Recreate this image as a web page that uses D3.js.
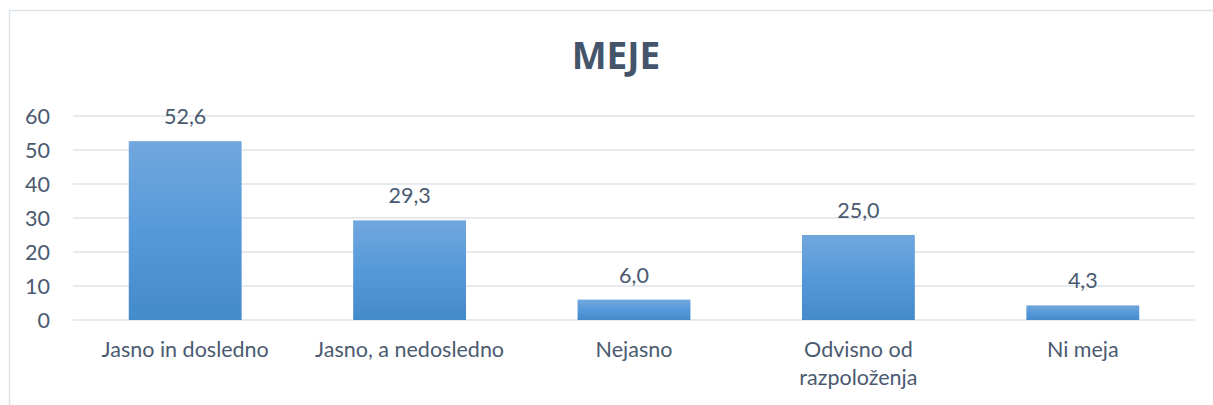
<!DOCTYPE html>
<html><head><meta charset="utf-8">
<script src="https://cdn.jsdelivr.net/npm/d3@7"></script>
<style>html,body{margin:0;padding:0;background:#fff;}svg{display:block;}</style>
</head><body>
<script>
const categories = ["Jasno in dosledno", "Jasno, a nedosledno", "Nejasno", "Odvisno od razpoloženja", "Ni meja"];
const categoryLines = [["Jasno in dosledno"], ["Jasno, a nedosledno"], ["Nejasno"], ["Odvisno od", "razpoloženja"], ["Ni meja"]];
const values = [52.6, 29.3, 6.0, 25.0, 4.3];
const yTicks = [0, 10, 20, 30, 40, 50, 60];
const title = "MEJE";

const W = 1213, H = 405;
const font = "Lato, 'Open Sans', sans-serif";
const fs = 21.5;
const textColor = "#4a5a70";
const svg = d3.select("body").append("svg").attr("width", W).attr("height", H);

const defs = svg.append("defs");
const grad = defs.append("linearGradient").attr("id", "bg").attr("x1", 0).attr("y1", 0).attr("x2", 0).attr("y2", 1);
grad.append("stop").attr("offset", "0%").attr("stop-color", "#71a7dd");
grad.append("stop").attr("offset", "50%").attr("stop-color", "#5699da");
grad.append("stop").attr("offset", "100%").attr("stop-color", "#448bcc");

// border (top and left visible)
svg.append("path").attr("d", `M9.5,${H} L9.5,10.5 L${W},10.5`).attr("fill", "none").attr("stroke", "#dde2e8").attr("stroke-width", 1.5);

const x = d3.scaleBand().domain(categories).range([73, 1195]).paddingInner(0.497).paddingOuter(0.2485);
const y = d3.scaleLinear().domain([0, 60]).range([320, 116]);

// gridlines
svg.append("g").selectAll("line").data(yTicks).join("line")
  .attr("x1", 73).attr("x2", 1195)
  .attr("y1", d => y(d)).attr("y2", d => y(d))
  .attr("stroke", "#dfe3e8").attr("stroke-width", 1.5);

// y axis labels
const yAxis = d3.axisLeft(y).tickValues(yTicks).tickSize(0).tickPadding(0).tickFormat(d3.format("d"));
const yg = svg.append("g").attr("transform", "translate(50,0)").call(yAxis);
yg.select(".domain").remove();
yg.selectAll("text").attr("font-family", font).attr("font-size", fs).attr("fill", textColor).attr("dy", "0.36em");

// bars
svg.append("g").selectAll("rect").data(values).join("rect")
  .attr("x", (d, i) => x(categories[i]))
  .attr("width", x.bandwidth())
  .attr("y", d => y(d))
  .attr("height", d => y(0) - y(d))
  .attr("fill", "url(#bg)");

// value labels
const fmt = v => d3.format(".1f")(v).replace(".", ",");
svg.append("g").selectAll("text").data(values).join("text")
  .attr("x", (d, i) => x(categories[i]) + x.bandwidth() / 2)
  .attr("y", d => y(d) - 17)
  .attr("text-anchor", "middle")
  .attr("font-family", font).attr("font-size", fs).attr("fill", textColor)
  .text(d => fmt(d));

// x labels
const xl = svg.append("g").selectAll("text").data(categories).join("text")
  .attr("x", d => x(d) + x.bandwidth() / 2)
  .attr("y", 357)
  .attr("text-anchor", "middle")
  .attr("font-family", font).attr("font-size", fs).attr("fill", textColor);
xl.each(function(d, i) {
  const t = d3.select(this);
  categoryLines[i].forEach((line, j) => {
    t.append("tspan").attr("x", x(d) + x.bandwidth() / 2).attr("dy", j === 0 ? 0 : 28).text(line);
  });
});

// title
svg.append("text").attr("x", 616).attr("y", 69).attr("text-anchor", "middle")
  .attr("font-family", "'Open Sans', sans-serif").attr("font-weight", "bold").attr("font-size", 37).attr("fill", "#44546a")
  .text(title);
</script>
</body></html>
